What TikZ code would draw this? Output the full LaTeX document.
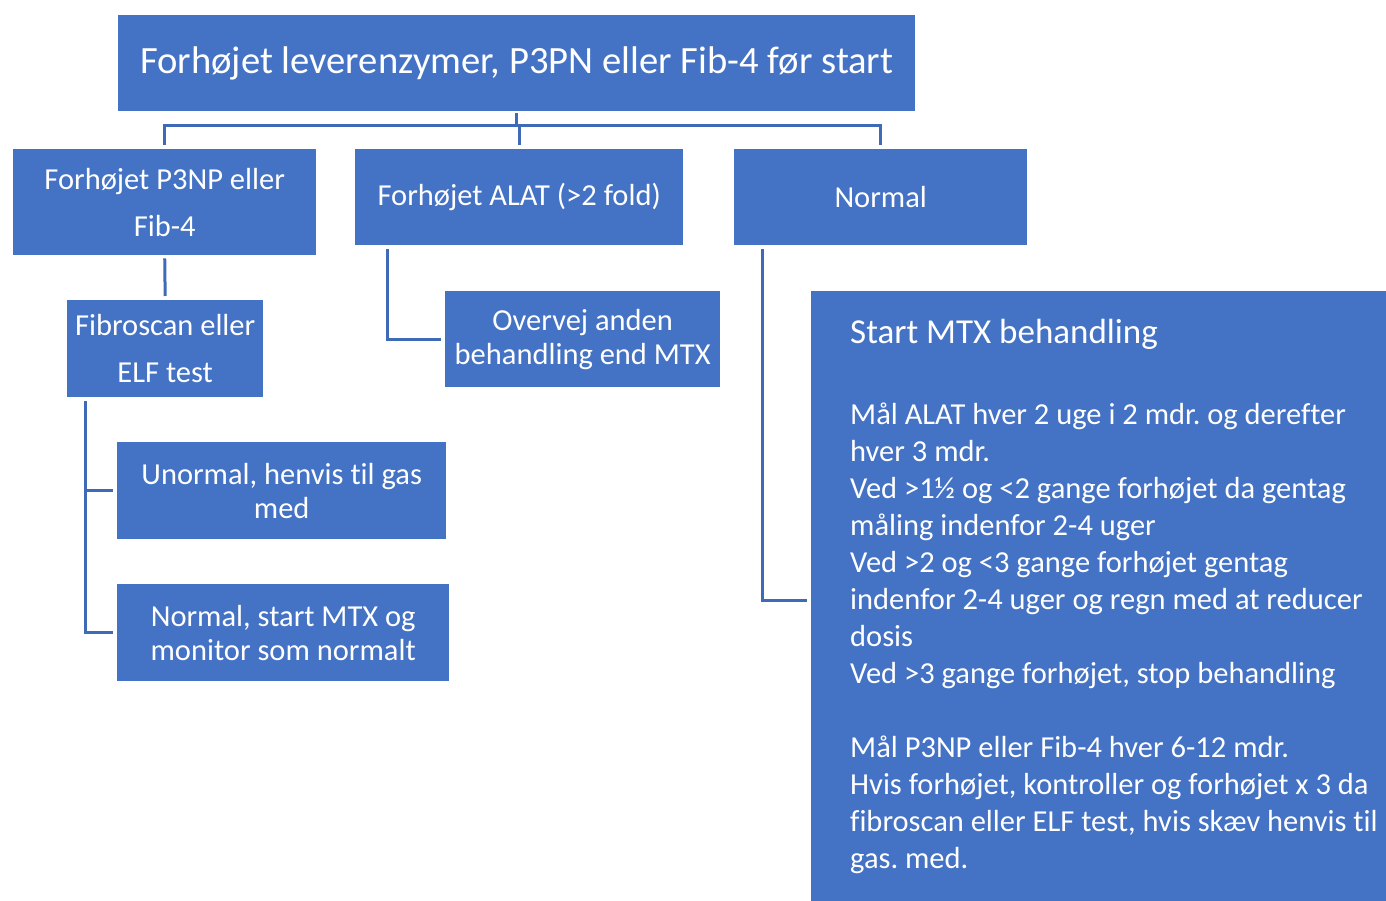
\documentclass[tikz,border=0pt]{standalone}
\usepackage{fontspec}
\setmainfont{Carlito}[Ligatures=NoCommon]
\usepackage{tikz}
\usetikzlibrary{calc,positioning}
\frenchspacing

\definecolor{boxblue}{HTML}{4472C4}
\definecolor{lineblue}{HTML}{3F6AB8}

\tikzset{
	boks/.style={fill=boxblue, text=white, align=center, inner sep=0pt, anchor=north west,
		font=\fontsize{30.5}{34}\selectfont},
	boxsize/.style 2 args={minimum width=#1pt, minimum height=#2pt},
	link/.style={draw=lineblue, line width=3pt},
}

\begin{document}
\begin{tikzpicture}[x=1pt,y=-1pt]
	\useasboundingbox (0,0) rectangle (1386,901);
	\node[boks, boxsize={797}{96}, font=\fontsize{38.6}{44}\selectfont] (top) at (118,15)
		{Forhøjet leverenzymer, P3PN eller Fib-4 før start};
	\node[boks, boxsize={303}{106}, font=\fontsize{30.5}{47}\selectfont] (p3np) at (13,149)
		{Forhøjet P3NP eller\\Fib-4};
	\node[boks, boxsize={328}{96}] (alat) at (355,149) {Forhøjet ALAT (>2 fold)};
	\node[boks, boxsize={293}{96}] (normal) at (734,149) {Normal};
	\node[boks, boxsize={196}{97}, font=\fontsize{30.5}{47}\selectfont] (fibro) at (67,300)
		{Fibroscan eller\\ELF test};
	\node[boks, boxsize={329}{97}] (unorm) at (117,442) {Unormal, henvis til gas\\med};
	\node[boks, boxsize={332}{97}] (normstart) at (117,584) {Normal, start MTX og\\monitor som normalt};
	\node[boks, boxsize={275}{96}] (overvej) at (445,291) {Overvej anden\\behandling end MTX};
	\node[boks, boxsize={575}{610}] (mtxbox) at (811,291) {};
	\node[text=white, align=left, inner sep=0pt, anchor=north west,
		font=\fontsize{30.5}{37}\selectfont] (mtxtekst) at ([xshift=39pt,yshift=-28pt]mtxbox.north west)
		{{\fontsize{35}{37}\selectfont Start MTX behandling}\\[44pt]
		Mål ALAT hver 2 uge i 2 mdr. og derefter\\
		hver 3 mdr.\\
		Ved >1½ og <2 gange forhøjet da gentag\\
		måling indenfor 2-4 uger\\
		Ved >2 og <3 gange forhøjet gentag\\
		indenfor 2-4 uger og regn med at reducer\\
		dosis\\
		Ved >3 gange forhøjet, stop behandling\\[37pt]
		Mål P3NP eller Fib-4 hver 6-12 mdr.\\
		Hvis forhøjet, kontroller og forhøjet x 3 da\\
		fibroscan eller ELF test, hvis skæv henvis til\\
		gas. med.};

	\coordinate (bus) at (0,126);
	\draw[link, shorten <=2pt] (top.south) -- (top.south |- bus);
	\draw[link, shorten <=4pt, shorten >=4pt] (p3np.north) |- (bus -| normal.north) -- (normal.north);
	\draw[link, shorten <=4pt] (alat.north) -- (alat.north |- bus);
	\draw[link, shorten <=3pt, shorten >=4pt] (p3np.south) -- (fibro.north);
	\draw[link, shorten <=4pt, shorten >=4pt] ([xshift=18pt]fibro.south west) |- (unorm.west);
	\draw[link, shorten <=4pt, shorten >=4pt] ([xshift=18pt]fibro.south west) |- (normstart.west);
	\draw[link, shorten <=4pt, shorten >=4pt] ([xshift=32pt]alat.south west) |- (overvej.west);
	\draw[link, shorten <=4pt, shorten >=4pt] ([xshift=28pt]normal.south west) |- ([yshift=-4pt]mtxbox.west);
\end{tikzpicture}
\end{document}
